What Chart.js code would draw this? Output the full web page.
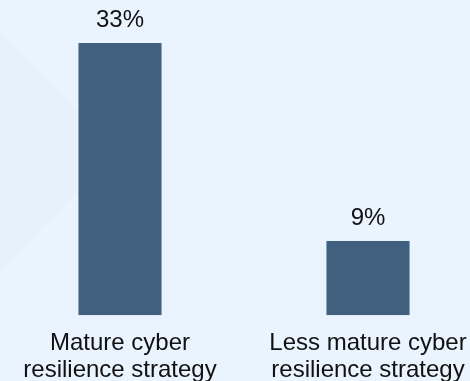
<!DOCTYPE html>
<html>
<head>
<meta charset="utf-8">
<script src="https://cdn.jsdelivr.net/npm/chart.js@4"></script>
<style>
    html, body { margin: 0; padding: 0; width: 470px; height: 381px; overflow: hidden; background: #eaf4fe; }
    .shade { position: absolute; left: 0; top: 0; width: 470px; height: 381px; background: #e7f1fb; clip-path: polygon(0 33px, 118px 151px, 0 270px); }
    .wrap { position: absolute; left: -4.5px; top: 0; width: 496px; height: 399px; }
</style>
</head>
<body>
<div class="shade"></div>
<div class="wrap"><canvas id="chart"></canvas></div>
<script>
    var categories = [
        ['Mature cyber', 'resilience strategy'],
        ['Less mature cyber', 'resilience strategy']
    ]
    var values = [33, 9]
    var barColor = '#41607f'
    var font = 'Liberation Sans, Arial, sans-serif'

    // percentage above each bar
    var valueLabels = {
        id: 'valueLabels',
        afterDatasetsDraw(chart) {
            var { ctx } = chart
            var meta = chart.getDatasetMeta(0)
            ctx.save()
            ctx.font = '24px ' + font
            ctx.fillStyle = '#111'
            ctx.textAlign = 'center'
            ctx.textBaseline = 'alphabetic'
            meta.data.forEach(function(bar, i) {
                ctx.fillText(values[i] + '%', bar.x, bar.y - 16)
            })
            ctx.restore()
        }
    }

    var el = document.getElementById('chart')
    new Chart(el, {
        type: 'bar',
        data: {
            labels: categories,
            datasets: [{
                data: values,
                backgroundColor: barColor,
                borderWidth: 0,
                barPercentage: 1,
                categoryPercentage: 0.335
            }]
        },
        options: {
            responsive: true,
            maintainAspectRatio: false,
            animation: false,
            layout: { padding: 0 },
            plugins: { legend: { display: false }, tooltip: { enabled: false } },
            scales: {
                x: {
                    grid: { display: false, drawTicks: false },
                    border: { display: false },
                    ticks: {
                        color: '#111',
                        padding: 15,
                        maxRotation: 0,
                        autoSkip: false,
                        font: { family: font, size: 24, lineHeight: 1.12 }
                    }
                },
                y: {
                    display: false,
                    min: 0,
                    max: 38.2
                }
            }
        },
        plugins: [valueLabels]
    })
</script>
</body>
</html>
